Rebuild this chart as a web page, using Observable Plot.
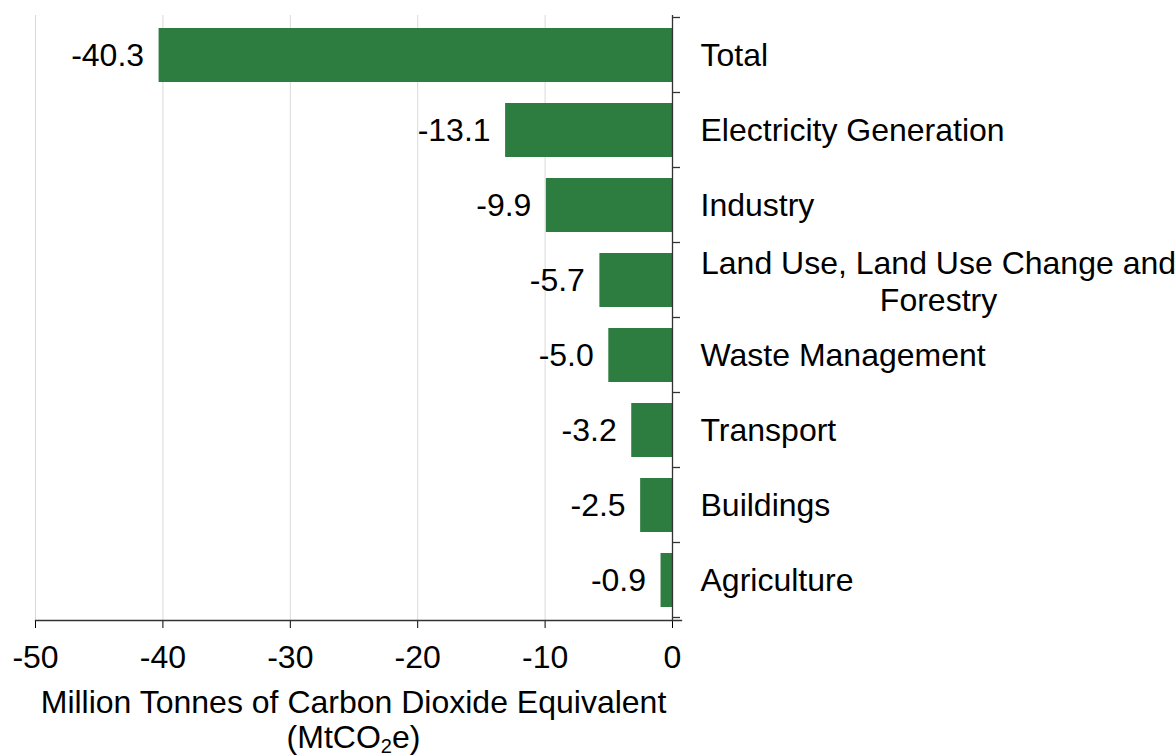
<!DOCTYPE html>
<html>
<head>
<meta charset="utf-8">
<script src="https://cdn.jsdelivr.net/npm/d3@7"></script>
<script src="https://cdn.jsdelivr.net/npm/@observablehq/plot@0.6"></script>
<style>
  html, body { margin: 0; padding: 0; background: #fff; }
  svg { font-family: "Liberation Sans", Arial, sans-serif; display: block; }
</style>
</head>
<body>
<div id="chart"></div>
<script>
const categories = ["Total", "Electricity Generation", "Industry", "Land Use, Land Use Change and Forestry", "Waste Management", "Transport", "Buildings", "Agriculture"];
const values = [-40.3, -13.1, -9.9, -5.7, -5.0, -3.2, -2.5, -0.9];
const xTicks = [-50, -40, -30, -20, -10, 0];
const wrappedLabel = "Land Use, Land Use Change and\nForestry";
const axisTitle = "Million Tonnes of Carbon Dioxide Equivalent";

const data = categories.map((c, i) => ({category: c, value: values[i]}));
const single = data.filter(d => d.category !== categories[3]);
const wrapped = [{category: categories[3], label: wrappedLabel}];

const green = "#2e7d40";
const FS = 32;

const plot = Plot.plot({
  width: 1176,
  height: 756,
  marginLeft: 35,
  marginRight: 504,
  marginTop: 15,
  marginBottom: 136,
  style: {fontFamily: '"Liberation Sans", Arial, sans-serif', fontSize: FS + "px", color: "#000", background: "#fff"},
  x: {domain: [-50, 0], ticks: xTicks, label: null, grid: false},
  y: {domain: categories, paddingInner: 0.28, paddingOuter: 0.14, label: null},
  marks: [
    Plot.gridX(xTicks.slice(0, -1), {stroke: "#d9d9d9", strokeOpacity: 1, strokeWidth: 1}),
    Plot.barX(data, {x: "value", y: "category", fill: green}),
    Plot.text(data, {x: "value", y: "category", text: d => d.value.toFixed(1), textAnchor: "end", dx: -15, fontSize: FS, fill: "#000"}),
    Plot.axisX({ticks: xTicks, tickSize: 8, tickPadding: 17, fontSize: FS, stroke: "#000", label: null, tickFormat: d => d === 0 ? "0" : String(d)}),
    Plot.axisY({ticks: [], tickSize: 0, label: null}),
    Plot.ruleX([0], {stroke: "#333", strokeWidth: 1.3}),
    Plot.frame({anchor: "bottom", stroke: "#333", strokeWidth: 1.3, insetRight: -9}),
    Plot.text(single, {y: "category", text: "category", frameAnchor: "right", textAnchor: "start", dx: 28, fontSize: FS, fill: "#000"}),
    Plot.text(wrapped, {y: "category", text: "label", frameAnchor: "right", textAnchor: "middle", dx: 266, fontSize: FS, lineHeight: 1.16, fill: "#000"})
  ]
});

document.getElementById("chart").appendChild(plot);

// Category boundary ticks on the right axis, from the y band scale
const ys = plot.scale("y");
const xs = plot.scale("x");
const svg = d3.select(plot);
const x0 = xs.apply(0);
const bounds = categories.map(c => ys.apply(c) - (ys.step - ys.bandwidth) / 2);
bounds.push(ys.apply(categories[categories.length - 1]) + ys.bandwidth + (ys.step - ys.bandwidth) / 2);
svg.append("g").selectAll("line").data(bounds).join("line")
  .attr("x1", x0).attr("x2", x0 + 8)
  .attr("y1", d => d).attr("y2", d => d)
  .attr("stroke", "#333").attr("stroke-width", 1.3);

// Axis title with subscript
const cx = (xs.apply(-50) + xs.apply(0)) / 2;
const t = svg.append("text")
  .attr("text-anchor", "middle")
  .attr("font-size", FS)
  .attr("fill", "#000");
t.append("tspan").attr("x", cx).attr("y", 713).text(axisTitle);
const t2 = t.append("tspan").attr("x", cx).attr("y", 748);
t2.append("tspan").text("(MtCO");
t2.append("tspan").attr("font-size", 20).attr("dy", 5).text("2");
t2.append("tspan").attr("dy", -5).text("e)");
</script>
</body>
</html>
